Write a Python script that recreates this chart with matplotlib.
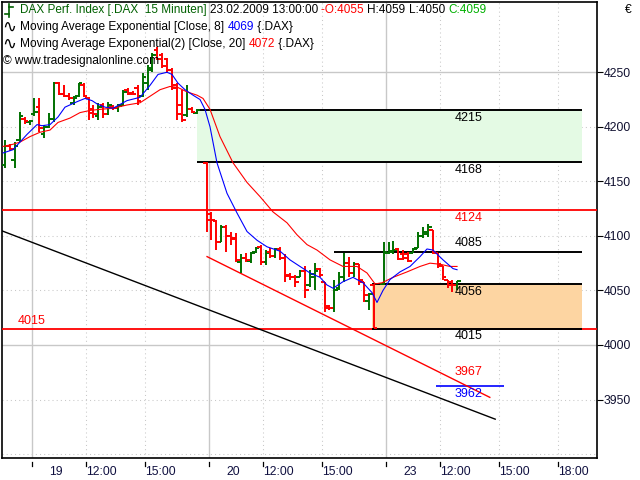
import numpy as np
import matplotlib
matplotlib.use('Agg')
import matplotlib.pyplot as plt
from matplotlib.collections import LineCollection

plt.rcParams['font.family'] = ['Liberation Sans', 'DejaVu Sans']

# ---- Kursdaten (15-Minuten-Bars), x = Slot (1 Slot = 15 min, Tagesbeginn 19. = 0)
start_19 = -5.5   # letzte Bars vom 18. + 19.02.
start_20 = 35.5
start_23 = 71.5

o_19 = [4165, 4182, 4170, 4188, 4207, 4204, 4212, 4218, 4193, 4200, 4207, 4240, 4230, 4228, 4222, 4228, 4238, 4226, 4216, 4210,
        4220, 4212, 4218, 4217, 4220, 4234, 4231, 4236, 4228, 4240, 4252, 4270, 4266, 4262, 4252, 4238, 4220, 4211, 4216, 4213]
h_19 = [4188, 4184, 4186, 4214, 4209, 4206, 4226, 4226, 4202, 4213, 4241, 4241, 4238, 4231, 4228, 4240, 4240, 4227, 4220, 4222,
        4222, 4223, 4220, 4221, 4234, 4236, 4233, 4238, 4249, 4257, 4268, 4273, 4268, 4263, 4254, 4240, 4234, 4238, 4218, 4216]
l_19 = [4162, 4178, 4162, 4186, 4203, 4202, 4210, 4195, 4190, 4199, 4204, 4229, 4227, 4225, 4220, 4227, 4227, 4206, 4208, 4206,
        4208, 4211, 4215, 4214, 4219, 4229, 4229, 4220, 4227, 4234, 4250, 4261, 4254, 4249, 4234, 4206, 4204, 4209, 4213, 4212]
c_19 = [4182, 4180, 4182, 4210, 4205, 4205, 4214, 4199, 4200, 4207, 4240, 4230, 4228, 4226, 4226, 4240, 4228, 4213, 4212, 4218,
        4212, 4220, 4217, 4219, 4232, 4230, 4230, 4224, 4246, 4254, 4266, 4262, 4256, 4252, 4236, 4212, 4206, 4216, 4214, 4215]

o_20 = [4167, 4120, 4114, 4094, 4108, 4100, 4098, 4076, 4080, 4077, 4085, 4090, 4076, 4085, 4082, 4088, 4080, 4064, 4062, 4062,
        4068, 4055, 4062, 4070, 4058, 4036, 4034, 4052, 4062, 4075, 4066, 4074, 4058, 4040, 4055]
h_20 = [4168, 4122, 4115, 4110, 4110, 4104, 4103, 4083, 4084, 4085, 4090, 4092, 4087, 4089, 4089, 4090, 4083, 4066, 4064, 4069,
        4072, 4069, 4075, 4071, 4058, 4037, 4060, 4067, 4084, 4081, 4076, 4074, 4058, 4048, 4056]
l_20 = [4104, 4096, 4087, 4094, 4085, 4092, 4076, 4066, 4076, 4075, 4084, 4073, 4073, 4080, 4080, 4078, 4058, 4060, 4053, 4062,
        4043, 4053, 4050, 4062, 4030, 4032, 4030, 4050, 4058, 4062, 4062, 4055, 4039, 4032, 4016]
c_20 = [4115, 4115, 4094, 4108, 4100, 4097, 4078, 4080, 4078, 4084, 4089, 4076, 4084, 4082, 4088, 4080, 4063, 4062, 4058, 4068,
        4050, 4065, 4068, 4064, 4034, 4034, 4050, 4062, 4075, 4066, 4074, 4060, 4046, 4047, 4016]

o_23 = [4056, 4084, 4085, 4088, 4083, 4083, 4084, 4089, 4100, 4102, 4105, 4084, 4072, 4060, 4058, 4055]
h_23 = [4094, 4094, 4095, 4089, 4087, 4085, 4089, 4104, 4108, 4111, 4105, 4084, 4072, 4060, 4060, 4059]
l_23 = [4055, 4083, 4083, 4078, 4078, 4076, 4084, 4089, 4098, 4099, 4083, 4071, 4060, 4052, 4049, 4050]
c_23 = [4085, 4086, 4087, 4079, 4080, 4077, 4088, 4100, 4104, 4108, 4085, 4074, 4062, 4055, 4055, 4059]

# ---- gleitende Durchschnitte
ema8_x = [-5.9, -3.86, -2.44, -1.02, 1.02, 2.03, 3.66, 5.29, 6.71, 9.15, 10.78, 12.2, 13.22, 14.85, 16.47, 19.32, 21.96,
          24.0, 25.63, 27.46, 28.47, 29.69, 31.12, 32.74, 34.17, 35.18, 36.2, 37.62, 39.66, 41.69, 43.73, 45.76, 47.79,
          50.44, 52.47, 54.5, 56.54, 58.57, 59.99, 61.22, 63.25, 65.28, 67.32, 69.15, 70.16, 71.38, 72.81, 74.84, 76.88,
          78.91, 80.33, 81.55, 83.59, 85.62, 86.44]
ema8_y = [4176, 4179, 4186, 4193, 4202, 4201, 4202, 4209, 4218, 4223, 4226, 4224, 4221, 4218, 4217, 4224, 4227,
          4238, 4248, 4250, 4248, 4240, 4234, 4229, 4225, 4216, 4200, 4167, 4139, 4121, 4104, 4096, 4090,
          4086, 4078, 4072, 4066, 4062, 4055, 4052, 4058, 4062, 4057, 4048, 4039, 4050, 4060, 4067, 4072,
          4081, 4088, 4087, 4078, 4070, 4069]
ema20_x = [-5.9, -3.86, -2.44, -0.41, 1.63, 3.66, 5.29, 7.73, 9.76, 11.8, 13.83, 16.47, 19.32, 21.96, 24.0, 26.03, 28.07,
           29.69, 31.52, 33.56, 34.78, 36.2, 38.23, 40.88, 43.73, 46.37, 49.01, 51.86, 53.89, 55.93, 57.96, 60.61, 63.25,
           66.1, 68.13, 69.76, 71.18, 73.42, 76.27, 78.91, 80.94, 82.98, 85.01, 86.44]
ema20_y = [4182, 4184, 4186, 4191, 4195, 4197, 4204, 4208, 4213, 4215, 4216, 4217, 4220, 4222, 4228, 4234, 4237,
           4236, 4232, 4229, 4226, 4216, 4191, 4167, 4149, 4136, 4122, 4112, 4101, 4092, 4087, 4078, 4072,
           4072, 4066, 4056, 4057, 4062, 4067, 4072, 4075, 4074, 4072, 4072]

# ---- Zeichenobjekte
trend_schwarz_x = [-6.1, 94.2]
trend_schwarz_y = [4104.6, 3932]
trend_rot_x = [35.6, 93.1]
trend_rot_y = [4081, 3952]

luecke_oben = (33.56, 111.9, 4168, 4215)   # x0, x1, unten, oben
luecke_unten = (69.15, 111.9, 4015, 4056)
linie_4085 = (61.4, 111.9, 4085)
linie_3962 = (82.2, 96.0, 3962)
linie_4124 = 4124
linie_4015 = 4015
label_x = 86.0

xticks_tag = [0, 36, 72]
xlabels_tag = ['19', '20', '23']
xticks_std = [11, 23, 47, 59, 83, 95, 107]
xlabels_std = ['12:00', '15:00', '12:00', '15:00', '12:00', '15:00', '18:00']
yticks = [3950, 4000, 4050, 4100, 4150, 4200, 4250]

GRUEN = '#007000'
ROT = '#ff0000'
BLAU = '#0000ff'
GITTER = '#c8c8c8'

fig = plt.figure(figsize=(6.4, 4.8), dpi=100)
ax = fig.add_axes([2 / 640, 22 / 480, 595 / 640, 456 / 480])
ax.set_xlim(-6.1, 114.9)
ax.set_ylim(3896.4, 4314.4)

# Gitter
for y in [3900, 3950, 4050, 4100, 4150, 4200]:
    ax.axhline(y, color=GITTER, lw=0.75, ls=(0, (1, 3)), zorder=0)
for y in [4000, 4250]:
    ax.axhline(y, color=GITTER, lw=1.0, zorder=0)
for x in xticks_std:
    ax.axvline(x, color=GITTER, lw=0.75, ls=(0, (1, 3)), zorder=0)
for x in xticks_tag:
    ax.axvline(x, color=GITTER, lw=1.0, zorder=0)

# Kurslücken
x0, x1, u, o = luecke_oben
ax.fill_between([x0, x1], u, o, color='#e4fae4', lw=0, zorder=1)
ax.hlines([u, o], x0, x1, color='black', lw=1.4, zorder=4)
x0, x1, u, o = luecke_unten
ax.fill_between([x0, x1], u, o, color='#fdd5a2', lw=0, zorder=1)
ax.axhline(linie_4015, color=ROT, lw=1.3, zorder=3)
ax.hlines([u, o], x0, x1, color='black', lw=1.4, zorder=4)
ax.axhline(linie_4124, color=ROT, lw=1.3, zorder=3)
ax.hlines(linie_4085[2], linie_4085[0], linie_4085[1], color='black', lw=1.4, zorder=4)
ax.hlines(linie_3962[2], linie_3962[0], linie_3962[1], color=BLAU, lw=1.2, zorder=4)

# Trendlinien
ax.plot(trend_schwarz_x, trend_schwarz_y, color='black', lw=1.0, zorder=5)
ax.plot(trend_rot_x, trend_rot_y, color=ROT, lw=1.0, zorder=5)


# OHLC-Bars
def ohlc(ax, x, o, h, l, c, w=0.75):
    segs_up, segs_dn = [], []
    for xi, oi, hi, li, ci in zip(x, o, h, l, c):
        s = [[(xi, li), (xi, hi)], [(xi - w, oi), (xi, oi)], [(xi, ci), (xi + w, ci)]]
        if ci >= oi:
            segs_up += s
        else:
            segs_dn += s
    ax.add_collection(LineCollection(segs_up, colors=GRUEN, linewidths=1.4, zorder=6))
    ax.add_collection(LineCollection(segs_dn, colors=ROT, linewidths=1.4, zorder=6))


for start, o, h, l, c in [(start_19, o_19, h_19, l_19, c_19),
                          (start_20, o_20, h_20, l_20, c_20),
                          (start_23, o_23, h_23, l_23, c_23)]:
    ohlc(ax, start + np.arange(len(o)), o, h, l, c)

ax.plot(ema20_x, ema20_y, color=ROT, lw=0.8, zorder=7)
ax.plot(ema8_x, ema8_y, color=BLAU, lw=0.8, zorder=7)

# Beschriftungen der Linien
def marke(x, y, text, farbe, dy, ha='left'):
    ax.annotate(text, (x, y), xytext=(0, dy), textcoords='offset pixels',
                ha=ha, va='center', fontsize=9, color=farbe, zorder=8)


marke(label_x, 4215, '4215', 'black', -8)
marke(label_x, 4168, '4168', 'black', -8)
marke(label_x, 4124, '4124', ROT, -8)
marke(label_x, 4085, '4085', 'black', 9)
marke(label_x, 4056, '4056', 'black', -8)
marke(label_x, 4015, '4015', 'black', -7)
marke(label_x, 3967, '3967', ROT, 9)
marke(label_x, 3962, '3962', BLAU, -8)
marke(-2.85, 4015, '4015', ROT, 8)

# Achsen
for sp in ax.spines.values():
    sp.set_color('black')
    sp.set_linewidth(1.2)
ax.yaxis.tick_right()
ax.set_yticks(yticks)
ax.set_yticklabels([str(v) for v in yticks], fontsize=8.7)
ax.tick_params(axis='y', length=4, width=0.8, pad=1, colors='black', labelcolor='#101030')
ax.set_xticks([])

tr = ax.get_xaxis_transform()
for x in xticks_tag + xticks_std:
    ax.plot([x, x], [-0.009, -0.018], transform=tr, color='black', lw=0.9, clip_on=False)
for x, t in zip(xticks_tag, xlabels_tag):
    ax.annotate(t, (x, -0.031), xycoords=tr, xytext=(24, 0), textcoords='offset pixels',
                ha='center', va='center', fontsize=8.7, color='#101040')
for x, t in zip(xticks_std, xlabels_std):
    ax.annotate(t, (x, -0.031), xycoords=tr, xytext=(0, 0), textcoords='offset pixels',
                ha='left', va='center', fontsize=8.7, color='#101040')

fig.text(625 / 640, 1 - 10 / 480, '€', fontsize=8.7, ha='left', va='center')

# Kopfzeilen
fig.canvas.draw()
renderer = fig.canvas.get_renderer()


def zeile(x_px, y_px, teile, groesse=8.6):
    x = x_px
    for text, farbe in teile:
        t = fig.text(x / 640, 1 - y_px / 480, text, color=farbe, fontsize=groesse, ha='left', va='center')
        x = t.get_window_extent(renderer).x1


zeile(20, 10, [('DAX Perf. Index [.DAX  15 Minuten] ', '#006000'), ('23.02.2009 13:00:00 ', 'black'),
               ('-O:4055 ', ROT), ('H:4059 ', 'black'), ('L:4050 ', 'black'), ('C:4059', '#00b000')], groesse=8.5)
for y_px in (27, 44):
    fig.text(2 / 640, 1 - y_px / 480, '∿', fontsize=12, ha='left', va='center', family='DejaVu Sans')
zeile(20, 27, [('Moving Average Exponential [Close, 8] ', 'black'), ('4069', BLAU), (' {.DAX}', 'black')])
zeile(20, 44, [('Moving Average Exponential(2) [Close, 20] ', 'black'), ('4072', ROT), (' {.DAX}', 'black')])
zeile(3, 61, [('© www.tradesignalonline.com', 'black')])

# kleines Bar-Symbol links oben
fig.lines.append(plt.Line2D([9 / 640, 9 / 640], [1 - 4 / 480, 1 - 17 / 480], color='#006000', lw=1.2, transform=fig.transFigure))
fig.lines.append(plt.Line2D([5 / 640, 9 / 640], [1 - 14 / 480, 1 - 14 / 480], color='#006000', lw=1.2, transform=fig.transFigure))
fig.lines.append(plt.Line2D([9 / 640, 13 / 640], [1 - 7 / 480, 1 - 7 / 480], color='#006000', lw=1.2, transform=fig.transFigure))

fig.savefig('out.png', dpi=100)
